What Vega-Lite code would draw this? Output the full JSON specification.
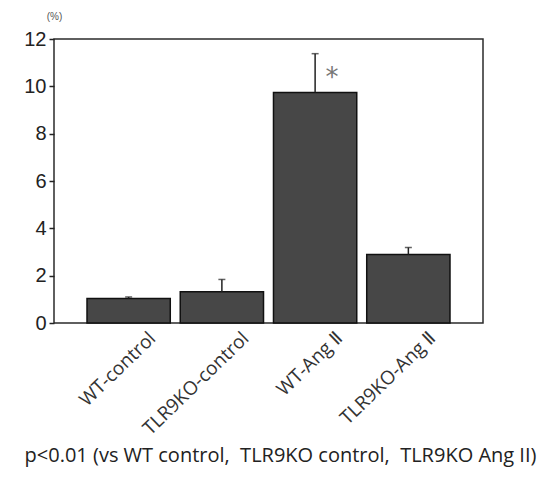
{
  "$schema": "https://vega.github.io/schema/vega-lite/v6.json",
  "width": 429,
  "height": 284,
  "autosize": {"type": "none"},
  "padding": {"left": 54, "top": 39, "right": 61, "bottom": 159},
  "background": "white",
  "config": {"view": {"stroke": "#2b2b2b", "strokeWidth": 1.5}},
  "title": {
    "text": "p<0.01 (vs WT control,\u00a0 TLR9KO control,\u00a0 TLR9KO Ang II)",
    "orient": "bottom",
    "frame": "group",
    "anchor": "middle",
    "fontSize": 20,
    "fontWeight": "normal",
    "font": "Open Sans",
    "color": "#222",
    "offset": 8,
    "dx": 12
  },
  "data": {
    "values": [
      {"group": "WT-control", "mean": 1.04, "upper": 1.1, "sig": ""},
      {"group": "TLR9KO-control", "mean": 1.32, "upper": 1.84, "sig": ""},
      {"group": "WT-Ang Ⅱ", "mean": 9.74, "upper": 11.38, "sig": "*"},
      {"group": "TLR9KO-Ang Ⅱ", "mean": 2.89, "upper": 3.19, "sig": ""}
    ]
  },
  "encoding": {
    "x": {
      "field": "group",
      "type": "nominal",
      "sort": null,
      "scale": {"paddingInner": 0.107, "paddingOuter": 0.354},
      "axis": {
        "title": null,
        "domain": false,
        "ticks": false,
        "labelAngle": -44,
        "labelAlign": "right",
        "labelBaseline": "middle",
        "labelFont": "Open Sans",
        "labelFontSize": 19,
        "labelColor": "#333",
        "labelOffset": 24,
        "labelPadding": 12
      }
    }
  },
  "layer": [
    {
      "mark": {"type": "bar", "fill": "#474747", "stroke": "#111", "strokeWidth": 1.5},
      "encoding": {
        "y": {
          "field": "mean",
          "type": "quantitative",
          "scale": {"domain": [0, 12], "nice": false},
          "axis": {
            "values": [0, 1, 2, 3, 4, 5, 6, 7, 8, 9, 10, 11, 12],
            "labelExpr": "datum.value % 2 == 0 ? datum.label : ''",
            "grid": false,
            "domain": false,
            "tickSize": 5,
            "tickColor": "#222",
            "tickWidth": 1.5,
            "labelFont": "Liberation Sans",
            "labelFontSize": 20,
            "labelColor": "#222",
            "labelPadding": 3,
            "title": "(%)",
            "titleAngle": 0,
            "titleX": 0,
            "titleY": -23,
            "titleAlign": "center",
            "titleBaseline": "middle",
            "titleFontSize": 10,
            "titleFontWeight": "normal",
            "titleColor": "#555"
          }
        }
      }
    },
    {
      "mark": {"type": "rule", "stroke": "#222", "strokeWidth": 1.5},
      "encoding": {
        "y": {"field": "mean", "type": "quantitative"},
        "y2": {"field": "upper"}
      }
    },
    {
      "mark": {"type": "tick", "color": "#222", "size": 7, "thickness": 1.5},
      "encoding": {
        "y": {"field": "upper", "type": "quantitative"}
      }
    },
    {
      "transform": [{"filter": "datum.sig != ''"}],
      "mark": {"type": "text", "font": "DejaVu Sans", "fontSize": 26, "color": "#777", "baseline": "middle", "dx": 17, "dy": 24},
      "encoding": {
        "y": {"field": "upper", "type": "quantitative"},
        "text": {"field": "sig"}
      }
    }
  ]
}
